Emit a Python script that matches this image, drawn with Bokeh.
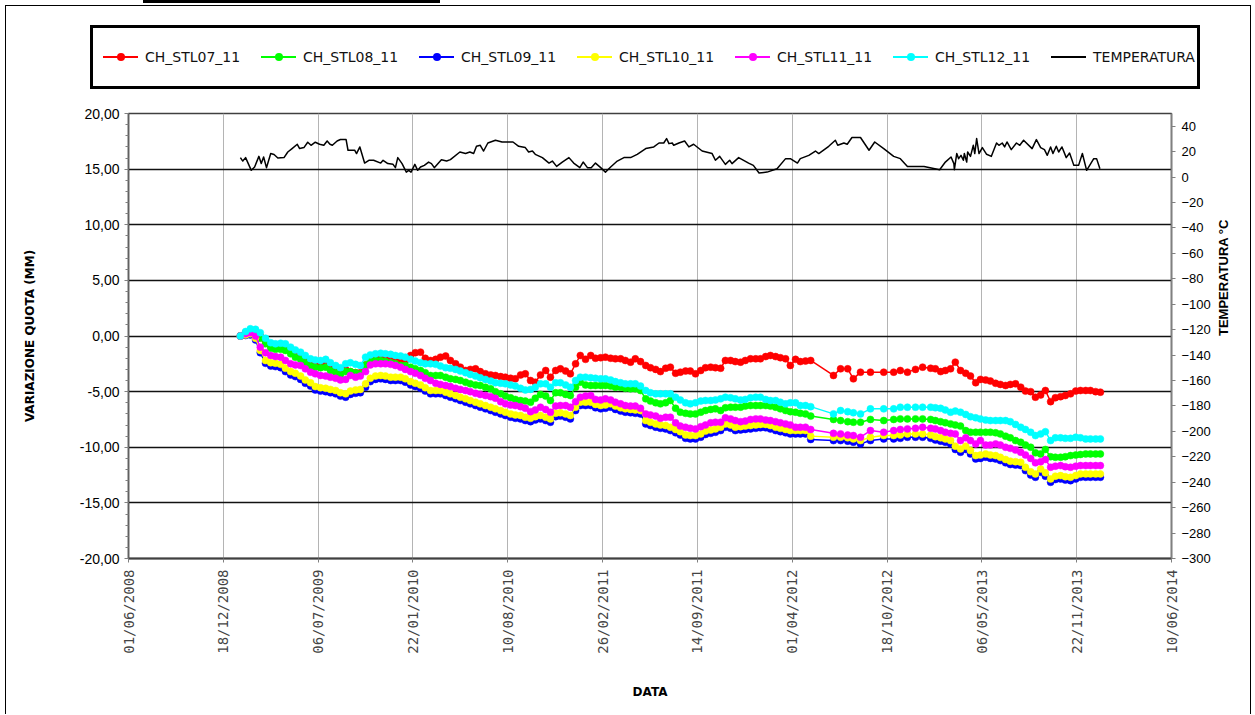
import math
from datetime import datetime, timedelta

from bokeh.plotting import figure
from bokeh.layouts import column
from bokeh.models import (Range1d, LinearAxis, FixedTicker, SingleIntervalTicker,
                          CustomJSTickFormatter, DatetimeTickFormatter, Div)
from bokeh.embed import file_html
from bokeh.resources import INLINE

# ---------------- data (dates as Excel serial day numbers) ----------------
meas_serial = [
    39836, 39847, 39857, 39868, 39878, 39889, 39900, 39910, 39921, 39931,
    39942, 39952, 39963, 39973, 39984, 39994, 40005, 40016, 40026, 40037,
    40047, 40058, 40068, 40079, 40089, 40100, 40110, 40121, 40132, 40142,
    40153, 40163, 40174, 40184, 40195, 40205, 40216, 40226, 40237, 40248,
    40258, 40269, 40279, 40290, 40300, 40311, 40321, 40332, 40342, 40353,
    40364, 40374, 40385, 40395, 40406, 40416, 40427, 40437, 40448, 40458,
    40469, 40480, 40490, 40501, 40511, 40522, 40532, 40543, 40553, 40564,
    40575, 40585, 40596, 40606, 40617, 40627, 40638, 40648, 40659, 40669,
    40680, 40691, 40701, 40712, 40722, 40733, 40743, 40754, 40764, 40775,
    40785, 40796, 40807, 40817, 40828, 40838, 40849, 40859, 40870, 40880,
    40891, 40901, 40912, 40923, 40933, 40944, 40954, 40965, 40975, 40986,
    40996, 41007, 41017, 41028, 41039,
    41087, 41102, 41117, 41129, 41144, 41165, 41193, 41214, 41228, 41243, 41260, 41275,
    41292, 41302, 41313, 41323, 41334, 41344, 41355, 41366, 41376, 41387,
    41397, 41408, 41418, 41429, 41439, 41450, 41460, 41471, 41482, 41492,
    41503, 41513, 41524, 41534, 41545, 41555, 41566, 41576, 41587, 41598,
    41608, 41619, 41629, 41640, 41650,
]

ch_stl07 = [
    0.0, 0.3, 0.5, 0.4, 0.0, -0.5, -0.9, -1.0, -1.0, -1.1,
    -1.4, -1.6, -1.8, -2.1, -2.4, -2.5, -2.55, -2.5, -2.8, -3.1,
    -3.3, -3.0, -3.2, -3.3, -3.3, -2.6, -2.1, -2.1, -2.0, -2.1,
    -2.2, -2.3, -2.3, -2.2, -1.75, -1.5, -1.45, -2.0, -2.2, -2.1,
    -1.9, -1.8, -2.2, -2.5, -2.8, -3.1, -3.0, -2.95, -3.2, -3.4,
    -3.5, -3.55, -3.65, -3.7, -3.8, -3.85, -3.5, -3.4, -4.0, -4.15,
    -3.5, -3.1, -3.7, -3.1, -2.95, -3.15, -3.4, -2.5, -1.75, -2.1,
    -1.75, -2.0, -1.95, -1.9, -2.0, -2.05, -2.05, -2.2, -2.35, -2.05,
    -2.3, -2.65, -2.85, -3.0, -3.2, -2.9, -2.8, -3.35, -3.25, -3.15,
    -3.15, -3.4, -3.1, -2.85, -2.8, -2.85, -2.9, -2.2, -2.2, -2.3,
    -2.35, -2.2, -2.05, -2.05, -2.05, -1.85, -1.75, -1.85, -1.95, -2.05,
    -2.65, -2.1, -2.3, -2.25, -2.2,
    -3.55, -2.95, -2.95, -3.85, -3.25, -3.25, -3.25, -3.25, -3.1, -3.25, -3.0, -2.8,
    -2.9, -2.95, -3.2, -3.1, -2.95, -2.35, -3.1, -3.35, -3.6, -4.2,
    -3.9, -3.95, -4.05, -4.25, -4.35, -4.45, -4.35, -4.3, -4.6, -4.95,
    -5.0, -5.5, -5.3, -4.9, -5.9, -5.55, -5.45, -5.35, -5.2, -4.95,
    -4.9, -4.9, -4.9, -5.0, -5.05,
]

ch_stl08 = [
    0.0, 0.25, 0.45, 0.3, -0.2, -0.7, -1.1, -1.2, -1.2, -1.3,
    -1.6, -1.9, -2.1, -2.4, -2.7, -2.8, -2.85, -2.8, -3.1, -3.3,
    -3.5, -3.2, -3.2, -3.3, -3.4, -2.6, -2.3, -2.2, -2.2, -2.3,
    -2.4, -2.5, -2.65, -2.65, -2.8, -2.95, -3.1, -3.3, -3.55, -3.55,
    -3.55, -3.7, -3.85, -3.9, -4.0, -4.15, -4.3, -4.4, -4.45, -4.6,
    -4.75, -5.0, -5.2, -5.4, -5.55, -5.7, -5.8, -5.85, -5.95, -5.6,
    -5.25, -5.4, -5.8, -5.1, -5.1, -5.25, -5.35, -4.6, -4.15, -4.4,
    -4.45, -4.45, -4.45, -4.45, -4.5, -4.6, -4.6, -4.7, -4.75, -4.75,
    -4.9, -5.65, -5.85, -6.0, -6.1, -6.0, -5.8, -6.5, -6.85, -6.95,
    -7.0, -7.0, -6.85, -6.7, -6.6, -6.55, -6.7, -6.45, -6.4, -6.4,
    -6.4, -6.3, -6.25, -6.25, -6.25, -6.25, -6.3, -6.4, -6.55, -6.7,
    -6.8, -6.85, -6.95, -7.0, -7.2,
    -7.5, -7.6, -7.7, -7.75, -7.75, -7.5, -7.6, -7.5, -7.45, -7.45, -7.45, -7.45,
    -7.5, -7.6, -7.7, -7.8, -7.9, -8.0, -8.1, -8.5, -8.65, -8.65,
    -8.65, -8.65, -8.65, -8.7, -8.8, -9.0, -9.15, -9.4, -9.55, -9.8,
    -10.0, -10.5, -10.6, -10.2, -10.85, -10.9, -10.9, -10.85, -10.75, -10.7,
    -10.65, -10.6, -10.6, -10.6, -10.6,
]

ch_stl09 = [
    0.0, 0.05, 0.1, -0.35, -1.5, -2.45, -2.7, -2.75, -2.85, -3.2,
    -3.5, -3.65, -3.9, -4.25, -4.5, -4.85, -4.95, -5.0, -5.1, -5.2,
    -5.4, -5.5, -5.25, -5.15, -5.1, -4.6, -4.1, -3.9, -3.85, -3.9,
    -4.0, -4.0, -4.0, -4.15, -4.4, -4.55, -4.7, -4.95, -5.2, -5.2,
    -5.2, -5.35, -5.5, -5.65, -5.8, -5.95, -6.1, -6.25, -6.4, -6.55,
    -6.7, -6.85, -7.0, -7.15, -7.3, -7.4, -7.45, -7.6, -7.7, -7.55,
    -7.45, -7.6, -7.75, -7.25, -7.2, -7.3, -7.45, -6.7, -6.25, -6.25,
    -6.25, -6.45, -6.55, -6.5, -6.4, -6.6, -6.75, -6.85, -6.9, -6.95,
    -7.0, -7.9, -8.05, -8.2, -8.3, -8.35, -8.5, -8.7, -8.9, -9.2,
    -9.25, -9.25, -9.1, -8.85, -8.75, -8.65, -8.5, -8.2, -8.3, -8.5,
    -8.45, -8.4, -8.35, -8.3, -8.25, -8.25, -8.35, -8.5, -8.6, -8.7,
    -8.8, -8.8, -8.8, -8.8, -9.3,
    -9.4, -9.4, -9.45, -9.55, -9.7, -9.4, -9.25, -9.25, -9.2, -9.1, -9.1, -9.1,
    -9.2, -9.35, -9.45, -9.55, -9.7, -10.2, -10.45, -10.2, -10.6, -11.05,
    -11.0, -10.9, -11.0, -11.05, -11.2, -11.4, -11.55, -11.6, -11.65, -12.1,
    -12.5, -12.7, -12.25, -12.6, -13.15, -12.9, -12.85, -12.95, -13.0, -12.85,
    -12.7, -12.7, -12.7, -12.7, -12.7,
]

ch_stl10 = [
    0.0, 0.1, 0.2, -0.2, -1.3, -2.2, -2.4, -2.45, -2.55, -2.9,
    -3.2, -3.35, -3.6, -3.95, -4.2, -4.55, -4.65, -4.7, -4.8, -4.9,
    -5.1, -5.2, -4.95, -4.85, -4.8, -4.3, -3.8, -3.6, -3.55, -3.6,
    -3.7, -3.7, -3.7, -3.85, -4.1, -4.25, -4.4, -4.65, -4.9, -4.9,
    -4.9, -5.05, -5.2, -5.35, -5.5, -5.65, -5.8, -5.95, -6.1, -6.25,
    -6.4, -6.55, -6.7, -6.85, -7.0, -7.1, -7.15, -7.3, -7.4, -7.25,
    -7.15, -7.3, -7.45, -6.95, -6.9, -7.0, -7.15, -6.4, -5.95, -5.95,
    -5.95, -6.15, -6.25, -6.2, -6.1, -6.3, -6.45, -6.55, -6.6, -6.65,
    -6.7, -7.6, -7.75, -7.9, -8.0, -8.05, -8.2, -8.4, -8.6, -8.9,
    -8.95, -8.95, -8.8, -8.55, -8.45, -8.35, -8.2, -7.9, -8.0, -8.2,
    -8.15, -8.1, -8.05, -8.0, -7.95, -7.95, -8.05, -8.2, -8.3, -8.4,
    -8.5, -8.5, -8.5, -8.5, -9.0,
    -9.1, -9.1, -9.15, -9.25, -9.4, -9.1, -8.95, -8.95, -8.9, -8.8, -8.8, -8.8,
    -8.9, -9.05, -9.15, -9.25, -9.4, -9.9, -10.15, -9.9, -10.3, -10.75,
    -10.7, -10.6, -10.7, -10.75, -10.9, -11.1, -11.25, -11.3, -11.35, -11.8,
    -12.2, -12.4, -11.95, -12.3, -12.85, -12.6, -12.55, -12.65, -12.7, -12.55,
    -12.4, -12.4, -12.4, -12.4, -12.4,
]

ch_stl11 = [
    0.0, 0.2, 0.3, 0.0, -1.0, -1.5, -1.75, -1.85, -1.9, -2.2,
    -2.5, -2.6, -2.65, -2.95, -3.25, -3.4, -3.55, -3.6, -3.7, -3.8,
    -3.95, -3.9, -3.55, -3.7, -3.6, -3.2, -2.6, -2.5, -2.5, -2.5,
    -2.55, -2.65, -2.8, -3.0, -3.2, -3.35, -3.55, -3.8, -4.0, -4.25,
    -4.35, -4.45, -4.55, -4.7, -4.8, -4.9, -5.0, -5.15, -5.25, -5.35,
    -5.45, -5.6, -5.9, -6.1, -6.2, -6.25, -6.35, -6.5, -6.8, -6.65,
    -6.4, -6.6, -6.85, -6.3, -6.25, -6.25, -6.4, -5.9, -5.5, -5.4,
    -5.35, -5.7, -5.75, -5.65, -5.75, -5.95, -6.1, -6.25, -6.3, -6.3,
    -6.5, -7.0, -7.1, -7.2, -7.4, -7.3, -7.3, -7.8, -8.1, -8.2,
    -8.3, -8.35, -8.15, -8.0, -7.8, -7.75, -7.75, -7.35, -7.45, -7.6,
    -7.7, -7.65, -7.5, -7.45, -7.45, -7.55, -7.6, -7.7, -7.8, -7.9,
    -8.0, -8.2, -8.2, -8.2, -8.4,
    -8.75, -8.8, -8.9, -8.95, -9.1, -8.5, -8.65, -8.5, -8.4, -8.35, -8.3, -8.2,
    -8.3, -8.35, -8.5, -8.65, -8.75, -8.8, -9.4, -9.15, -9.4, -9.7,
    -9.4, -9.8, -9.8, -9.7, -9.8, -10.0, -10.1, -10.25, -10.45, -10.7,
    -11.0, -11.4, -11.3, -11.1, -11.8, -11.7, -11.65, -11.75, -11.8, -11.7,
    -11.65, -11.65, -11.65, -11.65, -11.65,
]

ch_stl12 = [
    0.0, 0.4, 0.65, 0.6, 0.3, -0.2, -0.6, -0.7, -0.65, -0.7,
    -1.0, -1.25, -1.45, -1.75, -2.05, -2.15, -2.2, -2.1, -2.4, -2.65,
    -2.85, -2.5, -2.4, -2.55, -2.65, -1.9, -1.7, -1.6, -1.55, -1.6,
    -1.65, -1.75, -1.8, -1.9, -2.1, -2.25, -2.4, -2.5, -2.5, -2.55,
    -2.7, -2.85, -2.9, -3.0, -3.15, -3.3, -3.45, -3.6, -3.75, -3.9,
    -4.05, -4.2, -4.25, -4.3, -4.4, -4.5, -4.7, -4.85, -4.8, -4.6,
    -4.3, -4.3, -4.6, -4.2, -4.2, -4.4, -4.6, -4.0, -3.7, -3.7,
    -3.75, -3.8, -3.85, -3.85, -3.95, -4.1, -4.2, -4.3, -4.3, -4.3,
    -4.5, -4.9, -5.1, -5.2, -5.2, -5.2, -5.2, -5.5, -5.75, -6.0,
    -6.1, -6.0, -5.85, -5.8, -5.8, -5.75, -5.65, -5.5, -5.55, -5.65,
    -5.75, -5.7, -5.55, -5.5, -5.5, -5.7, -5.8, -5.8, -5.95, -6.1,
    -6.0, -6.0, -6.25, -6.25, -6.35,
    -7.0, -6.7, -6.8, -6.9, -7.0, -6.55, -6.55, -6.55, -6.4, -6.4, -6.4, -6.4,
    -6.4, -6.45, -6.5, -6.65, -6.85, -6.75, -6.85, -7.05, -7.25, -7.35,
    -7.45, -7.55, -7.6, -7.6, -7.6, -7.6, -7.7, -7.95, -8.2, -8.4,
    -8.65, -8.95, -8.8, -8.6, -9.4, -9.15, -9.15, -9.2, -9.2, -9.1,
    -9.15, -9.25, -9.25, -9.25, -9.25,
]

temp_serial = [
    39836, 39841, 39847, 39859, 39866, 39875, 39880, 39885, 39891, 39900,
    39907, 39915, 39928, 39936, 39945, 39956, 39961, 39970, 39978, 39985,
    39994, 40003, 40012, 40019, 40025, 40030, 40040, 40047, 40059, 40063,
    40077, 40081, 40088, 40098, 40107, 40117, 40132, 40137, 40147, 40158,
    40163, 40168, 40177, 40186, 40191, 40196, 40204, 40210, 40216, 40224,
    40233, 40239, 40245, 40260, 40271, 40279, 40299, 40311, 40320, 40328,
    40334, 40342, 40349, 40358, 40374, 40388, 40411, 40423, 40437, 40444,
    40452, 40458, 40473, 40487, 40494, 40503, 40515, 40529, 40539, 40552,
    40559, 40568, 40576, 40585, 40596, 40606, 40617, 40631, 40645, 40659,
    40673, 40691, 40708, 40719, 40729, 40735, 40740, 40747, 40750, 40761,
    40773, 40782, 40792, 40810, 40831, 40838, 40847, 40859, 40868, 40873,
    40887, 40908, 40918, 40930, 40947, 40968, 40986, 40996, 41011, 41017,
    41035, 41049, 41056, 41077, 41091, 41096, 41109, 41116, 41126, 41144,
    41162, 41174, 41193, 41214, 41228, 41243, 41278, 41311, 41323, 41335,
    41341, 41342, 41347, 41351, 41356, 41361, 41363, 41368, 41370, 41376,
    41382, 41385, 41389, 41394, 41401, 41410, 41420, 41431, 41436, 41443,
    41448, 41453, 41462, 41473, 41480, 41488, 41506, 41515, 41524, 41532,
    41538, 41545, 41550, 41557, 41562, 41569, 41578, 41585, 41594, 41604,
    41612, 41621, 41636, 41642, 41649,
]
temperatura = [
    15.3, 12.6, 15.3, 5.3, 7.9, 16.3, 10.6, 15.8, 7.4, 18.5,
    17.7, 15.0, 15.3, 19.7, 22.4, 25.8, 22.4, 23.2, 27.4, 25.0,
    27.4, 25.8, 25.0, 28.4, 25.8, 25.0, 28.4, 29.5, 29.5, 21.1,
    21.1, 18.5, 23.7, 11.0, 13.2, 13.2, 11.0, 13.2, 10.6, 10.0,
    7.4, 15.3, 10.6, 3.9, 5.3, 3.9, 10.0, 5.3, 7.9, 9.2,
    11.8, 10.6, 7.4, 13.7, 12.6, 13.7, 19.7, 18.5, 19.7, 18.5,
    24.2, 25.0, 20.5, 26.8, 29.0, 27.6, 27.6, 24.2, 23.2, 19.7,
    20.5, 17.9, 15.3, 11.0, 12.6, 8.4, 11.8, 15.3, 11.0, 7.4,
    11.8, 7.4, 7.4, 11.0, 7.4, 3.9, 7.9, 12.6, 15.3, 15.3,
    17.9, 22.4, 23.7, 26.8, 26.8, 30.3, 26.3, 26.8, 25.0, 26.8,
    28.4, 23.7, 25.8, 20.5, 18.5, 13.2, 16.3, 10.0, 13.2, 10.6,
    15.3, 11.0, 9.2, 3.2, 3.9, 6.6, 14.5, 14.5, 11.0, 14.5,
    17.1, 20.5, 18.5, 24.2, 29.0, 25.0, 26.8, 25.8, 31.1, 31.1,
    21.1, 27.6, 22.4, 16.3, 14.5, 8.4, 8.4, 5.8, 11.8, 15.8,
    10.6, 5.8, 18.5, 14.5, 17.1, 13.2, 18.5, 11.8, 19.7, 16.3,
    25.0, 18.5, 30.3, 18.5, 23.2, 17.9, 16.3, 26.8, 25.0, 26.8,
    23.7, 27.6, 21.6, 26.8, 25.0, 29.0, 22.4, 29.5, 23.2, 21.6,
    17.1, 23.7, 18.5, 24.2, 19.7, 23.7, 15.3, 18.9, 9.2, 9.2,
    18.5, 5.3, 14.5, 14.5, 6.6,
]

series_names = ["CH_STL07_11", "CH_STL08_11", "CH_STL09_11",
                "CH_STL10_11", "CH_STL11_11", "CH_STL12_11"]
series_colors = ["#ff0000", "#00ff00", "#0000ff", "#ffff00", "#ff00ff", "#00ffff"]
temp_name = "TEMPERATURA"

tick_dates = ["01/06/2008", "18/12/2008", "06/07/2009", "22/01/2010",
              "10/08/2010", "26/02/2011", "14/09/2011", "01/04/2012",
              "18/10/2012", "06/05/2013", "22/11/2013", "10/06/2014"]

# ---------------- helpers ----------------
EXCEL0 = datetime(1899, 12, 30)
EPOCH = datetime(1970, 1, 1)


def xl(s):
    return EXCEL0 + timedelta(days=s)


def ms(d):
    return (d - EPOCH).total_seconds() * 1000.0


tick_ms = [ms(datetime.strptime(t, "%d/%m/%Y")) for t in tick_dates]
meas_dt = [xl(s) for s in meas_serial]
temp_dt = [xl(s) for s in temp_serial]

# ---------------- geometry ----------------
W = 1244              # inner width of the bordered chart area (page x 6..1250)
HEAD_H = 93           # header (legend) strip height: page y 6..99
P_H = 615             # plot canvas height: page y 99..714
ML, MT, FW, FH = 122, 14, 1043, 445   # frame: page x 128..1171, y 113..558

# ---------------- legend strip (HTML) ----------------
def legend_entry(label, color, with_marker, width):
    marker = ""
    if with_marker:
        marker = ('<div style="position:absolute;left:13.5px;top:-3px;width:8px;'
                  'height:8px;border-radius:50%%;background:%s;"></div>' % color)
    w = "width:%dpx;" % width if width else ""
    return ('<div style="display:flex;align-items:center;flex:none;%s">'
            '<div style="position:relative;width:35px;height:2px;flex:none;'
            'background:%s;">%s</div>'
            '<span style="margin-left:7px;white-space:nowrap;">%s</span></div>'
            % (w, color, marker, label))


entries = "".join(legend_entry(n, c, True, 158)
                  for n, c in zip(series_names, series_colors))
entries += legend_entry(temp_name, "#000000", False, 0)

legend_html = ('<div style="box-sizing:border-box;width:1110px;height:64px;'
               'margin:19px 0 0 84px;border:3px solid #000;display:flex;'
               'align-items:center;padding-left:10px;font-family:\'DejaVu Sans\';'
               'font-size:14px;color:#111;background:#fff;">%s</div>' % entries)

header = Div(text=legend_html, width=W, height=HEAD_H, margin=(0, 0, 0, 0))

# ---------------- main chart ----------------
p = figure(x_axis_type="datetime",
           frame_width=FW, frame_height=FH,
           min_border_left=ML, min_border_right=W - ML - FW,
           min_border_top=MT, min_border_bottom=P_H - MT - FH,
           x_range=Range1d(datetime.strptime(tick_dates[0], "%d/%m/%Y"),
                           datetime.strptime(tick_dates[-1], "%d/%m/%Y")),
           y_range=Range1d(-20, 20),
           output_backend="svg", toolbar_location=None,
           background_fill_color="white", border_fill_color="white",
           outline_line_color="#404040", outline_line_width=1.5,
           margin=(0, 0, 0, 0))
p.extra_y_ranges = {"temp": Range1d(-300, 50)}

# x axis
xa = p.xaxis[0]
xa.ticker = FixedTicker(ticks=tick_ms)
fmt = "%d/%m/%Y"
xa.formatter = DatetimeTickFormatter(milliseconds=fmt, seconds=fmt, minsec=fmt,
                                     minutes=fmt, hourmin=fmt, hours=fmt,
                                     days=fmt, months=fmt, years=fmt)
xa.major_label_orientation = math.pi / 2
xa.major_label_text_font = "DejaVu Sans Mono"
xa.major_label_text_font_size = "14px"
xa.major_label_text_color = "#444444"
xa.major_label_standoff = 7
xa.minor_tick_line_color = None
xa.major_tick_in = 0
xa.major_tick_out = 4
xa.major_tick_line_color = "#808080"
xa.axis_line_color = "#404040"
xa.axis_line_width = 2
xa.axis_label = "DATA"
xa.axis_label_text_font = "DejaVu Sans"
xa.axis_label_text_font_style = "bold"
xa.axis_label_text_font_size = "12px"
xa.axis_label_text_color = "black"
xa.axis_label_standoff = 28

# left axis
ya = p.yaxis[0]
ya.ticker = SingleIntervalTicker(interval=5, num_minor_ticks=5)
ya.formatter = CustomJSTickFormatter(code="return tick.toFixed(2).replace('.', ',');")
ya.major_label_text_font = "Liberation Sans"
ya.major_label_text_font_size = "14px"
ya.major_label_text_color = "black"
ya.major_tick_in = 0
ya.major_tick_out = 4
ya.minor_tick_in = 0
ya.minor_tick_out = 3
ya.major_tick_line_color = "#808080"
ya.minor_tick_line_color = "#808080"
ya.axis_line_color = "#606060"
ya.axis_line_width = 1.5
ya.major_label_standoff = 5
ya.axis_label = "VARIAZIONE QUOTA (MM)"
ya.axis_label_text_font = "DejaVu Sans"
ya.axis_label_text_font_style = "bold"
ya.axis_label_text_font_size = "12px"
ya.axis_label_text_color = "black"
ya.axis_label_standoff = 40

# right axis (temperature)
ra = LinearAxis(y_range_name="temp",
                ticker=SingleIntervalTicker(interval=20, num_minor_ticks=0))
ra.major_label_text_font = "Liberation Sans"
ra.major_label_text_font_size = "13px"
ra.major_label_text_color = "black"
ra.major_tick_in = 0
ra.major_tick_out = 4
ra.major_tick_line_color = "#808080"
ra.minor_tick_line_color = None
ra.axis_line_color = "#808080"
ra.axis_line_width = 1.5
ra.major_label_standoff = 6
ra.axis_label = "TEMPERATURA °C"
ra.axis_label_text_font = "Liberation Sans"
ra.axis_label_text_font_style = "bold"
ra.axis_label_text_font_size = "13px"
ra.axis_label_text_color = "black"
ra.axis_label_standoff = 10
ra.axis_label_orientation = math.pi / 2
p.add_layout(ra, "right")

# grids
p.xgrid.grid_line_color = "#b4b4b4"
p.xgrid.grid_line_width = 1
p.ygrid.grid_line_color = "#111111"
p.ygrid.grid_line_width = 1.5

# series
all_series = [ch_stl07, ch_stl08, ch_stl09, ch_stl10, ch_stl11, ch_stl12]
for name, color, vals in zip(series_names, series_colors, all_series):
    p.line(meas_dt, vals, line_color=color, line_width=1.5, line_join="round")
    p.scatter(meas_dt, vals, size=7, marker="circle",
              fill_color=color, line_color=color, line_width=0.5)

p.line(temp_dt, temperatura, y_range_name="temp",
       line_color="black", line_width=1.5, line_join="round")

# ---------------- page ----------------
# remnant of the chart title box, cut at the top edge of the picture
bar = Div(text="", width=297, height=3, margin=(0, 0, 0, 143),
          styles={"background-color": "black"})

chart = column(header, p, spacing=0,
               styles={"margin-left": "5px", "margin-top": "2px",
                       "border-left": "1px solid black",
                       "border-top": "1px solid black",
                       "border-right": "1px solid black"})

page = column(bar, chart, spacing=0)

open("out.html", "w").write(file_html(page, INLINE))
